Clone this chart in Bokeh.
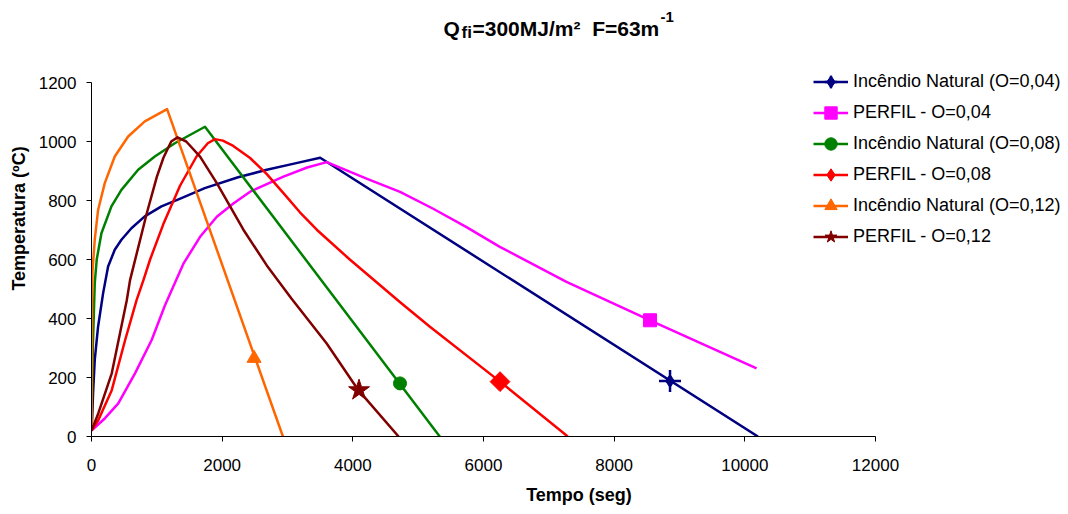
from bokeh.plotting import figure
from bokeh.models import Range1d, Legend, LegendItem, Label, FixedTicker
from bokeh.embed import file_html
from bokeh.resources import INLINE
import numpy as np

# ---------------- data ----------------
nat04_t = [0, 10, 24, 50, 101, 178, 254, 356, 458, 611, 815, 1071, 1377, 1734, 2244, 2683, 3100, 3500, 10200]
nat04_T = [20, 60, 147, 260, 373, 486, 576, 633, 667, 706, 746, 780, 808, 842, 879, 904, 925, 945, 0]

per04_t = [0, 207, 410, 666, 921, 1125, 1405, 1662, 1918, 2171, 2428, 2938, 3300, 3601,
           4210, 4723, 5230, 5740, 6250, 7270, 8550, 10180]
per04_T = [20, 62, 112, 214, 327, 445, 585, 677, 745, 790, 830, 881, 912, 930,
           874, 829, 772, 710, 643, 524, 394, 231]

nat08_t = [0, 20, 50, 80, 152, 305, 458, 714, 969, 1275, 1737, 5330]
nat08_T = [20, 300, 520, 600, 689, 780, 836, 904, 949, 994, 1050, 0]

per08_t = [0, 105, 310, 515, 690, 795, 897, 1100, 1355, 1610, 1780, 1890, 2010, 2170, 2428, 2680,
           2938, 3190, 3448, 3958, 4724, 5180, 6253, 7290]
per08_T = [20, 56, 157, 327, 462, 530, 600, 720, 850, 950, 994, 1008, 1003, 985, 944, 890,
           825, 760, 701, 599, 455, 372, 186, 0]

nat12_t = [0, 8, 15, 50, 101, 203, 356, 561, 816, 1157, 2930]
nat12_T = [20, 450, 560, 667, 768, 859, 949, 1017, 1068, 1110, 0]

per12_t = [0, 105, 310, 540, 590, 845, 1000, 1101, 1220, 1317, 1450, 1662, 1918, 2325, 2683,
           3060, 3600, 4085, 4700]
per12_T = [20, 79, 214, 462, 530, 756, 880, 945, 1000, 1014, 1000, 949, 859, 701, 580,
           468, 315, 157, 0]

# one marker per series
mk_t = [8855, 8549, 4722, 6253, 2488, 4095]
mk_T = [188, 394, 180, 186, 265, 157]

labels = ["Incêndio Natural (O=0,04)", "PERFIL - O=0,04", "Incêndio Natural (O=0,08)",
          "PERFIL - O=0,08", "Incêndio Natural (O=0,12)", "PERFIL - O=0,12"]
colors = ["#000080", "#FF00FF", "#008000", "#FF0000", "#FF6600", "#800000"]

x_ticks = [0, 2000, 4000, 6000, 8000, 10000, 12000]
y_ticks = [0, 200, 400, 600, 800, 1000, 1200]
x_max, y_max = 12000, 1200

FONT = "Liberation Sans"

# ---------------- geometry ----------------
W, H = 1066, 512
left, bottom = 91, 76
frame_w, frame_h = W - left, H - bottom
axis_len_x = 784.0      # pixels from 0 to 12000
axis_len_y = 354.0      # pixels from 0 to 1200
x_end = x_max * frame_w / axis_len_x
y_end = y_max * frame_h / axis_len_y

p = figure(width=W, height=H, output_backend="svg", toolbar_location=None,
           x_range=Range1d(0, x_end), y_range=Range1d(0, y_end),
           min_border_left=left, min_border_right=0, min_border_top=0, min_border_bottom=bottom)
p.title.visible = False
p.outline_line_color = None
p.grid.visible = False
p.background_fill_color = "white"
p.border_fill_color = "white"

for ax in (p.xaxis[0], p.yaxis[0]):
    ax.axis_line_color = "#000000"
    ax.axis_line_width = 1
    ax.major_tick_line_color = "#000000"
    ax.major_tick_out = 5
    ax.major_tick_in = 0
    ax.minor_tick_line_color = None
    ax.major_label_text_font = FONT
    ax.major_label_text_font_size = "17px"
    ax.major_label_text_color = "#000000"
    ax.axis_label_text_font = FONT
    ax.axis_label_text_font_size = "18px"
    ax.axis_label_text_font_style = "bold"
    ax.axis_label_text_color = "#000000"

p.xaxis[0].ticker = FixedTicker(ticks=x_ticks)
p.yaxis[0].ticker = FixedTicker(ticks=y_ticks)
p.xaxis[0].bounds = (0, x_max)
p.yaxis[0].bounds = (0, y_max)
p.xaxis[0].axis_label = "Tempo (seg)"
p.yaxis[0].axis_label = "Temperatura (ºC)"
p.xaxis[0].major_label_standoff = 17
p.yaxis[0].major_label_standoff = 10
p.xaxis[0].axis_label_standoff = 11
p.yaxis[0].axis_label_standoff = 7

series = [(nat04_t, nat04_T), (per04_t, per04_T), (nat08_t, nat08_T),
          (per08_t, per08_T), (nat12_t, nat12_T), (per12_t, per12_T)]

nan = [np.nan]
items = []
for i, ((tt, TT), col, lab) in enumerate(zip(series, colors, labels)):
    r_line = p.line(tt, TT, line_color=col, line_width=2.5, line_join="round")
    rs = [r_line]
    mx, my = [mk_t[i]], [mk_T[i]]
    if i == 0:
        rs.append(p.scatter(mx, my, marker="cross", size=22, line_color=col, line_width=2.5))
        rs.append(p.scatter(mx, my, marker="diamond", size=13, fill_color=col, line_color=col))
    elif i == 1:
        rs.append(p.scatter(mx, my, marker="square", size=13, fill_color=col, line_color=col))
    elif i == 2:
        rs.append(p.scatter(mx, my, marker="circle", size=13, fill_color=col, line_color=col))
    elif i == 3:
        p.scatter(mx, my, marker="square", angle=np.pi / 4, size=14,
                  fill_color=col, line_color=col)
        # legend-only glyph (no data): a diamond for the legend key
        rs.append(p.scatter(nan, nan, marker="diamond", size=14, fill_color=col, line_color=col))
    elif i == 4:
        rs.append(p.scatter(mx, my, marker="triangle", size=14, fill_color=col, line_color=col))
    else:
        rs.append(p.scatter(mx, my, marker="star", size=22, fill_color=col, line_color=col))
    items.append(LegendItem(label=lab, renderers=rs))

legend = Legend(items=items, location=(722, 184), glyph_width=35, glyph_height=31,
                label_height=31, spacing=0, label_standoff=5, padding=0, margin=0,
                label_text_font=FONT, label_text_font_size="18px", label_text_color="#000000",
                border_line_color=None, background_fill_alpha=0)
p.add_layout(legend, "center")

# title with subscript / superscript (screen units inside the frame)
tkw = dict(x_units="screen", y_units="screen", text_font=FONT, text_font_style="bold",
           text_color="#000000", text_baseline="alphabetic")
p.add_layout(Label(x=352, y=408, text="Q", text_font_size="21px", **tkw))
p.add_layout(Label(x=370, y=404, text="fi", text_font_size="17px", **tkw))
p.add_layout(Label(x=381, y=408, text="=300MJ/m²\u00a0 F=63m", text_font_size="21px", **tkw))
p.add_layout(Label(x=569, y=420, text="-1", text_font_size="15px", **tkw))

open("out.html", "w").write(file_html(p, INLINE))
